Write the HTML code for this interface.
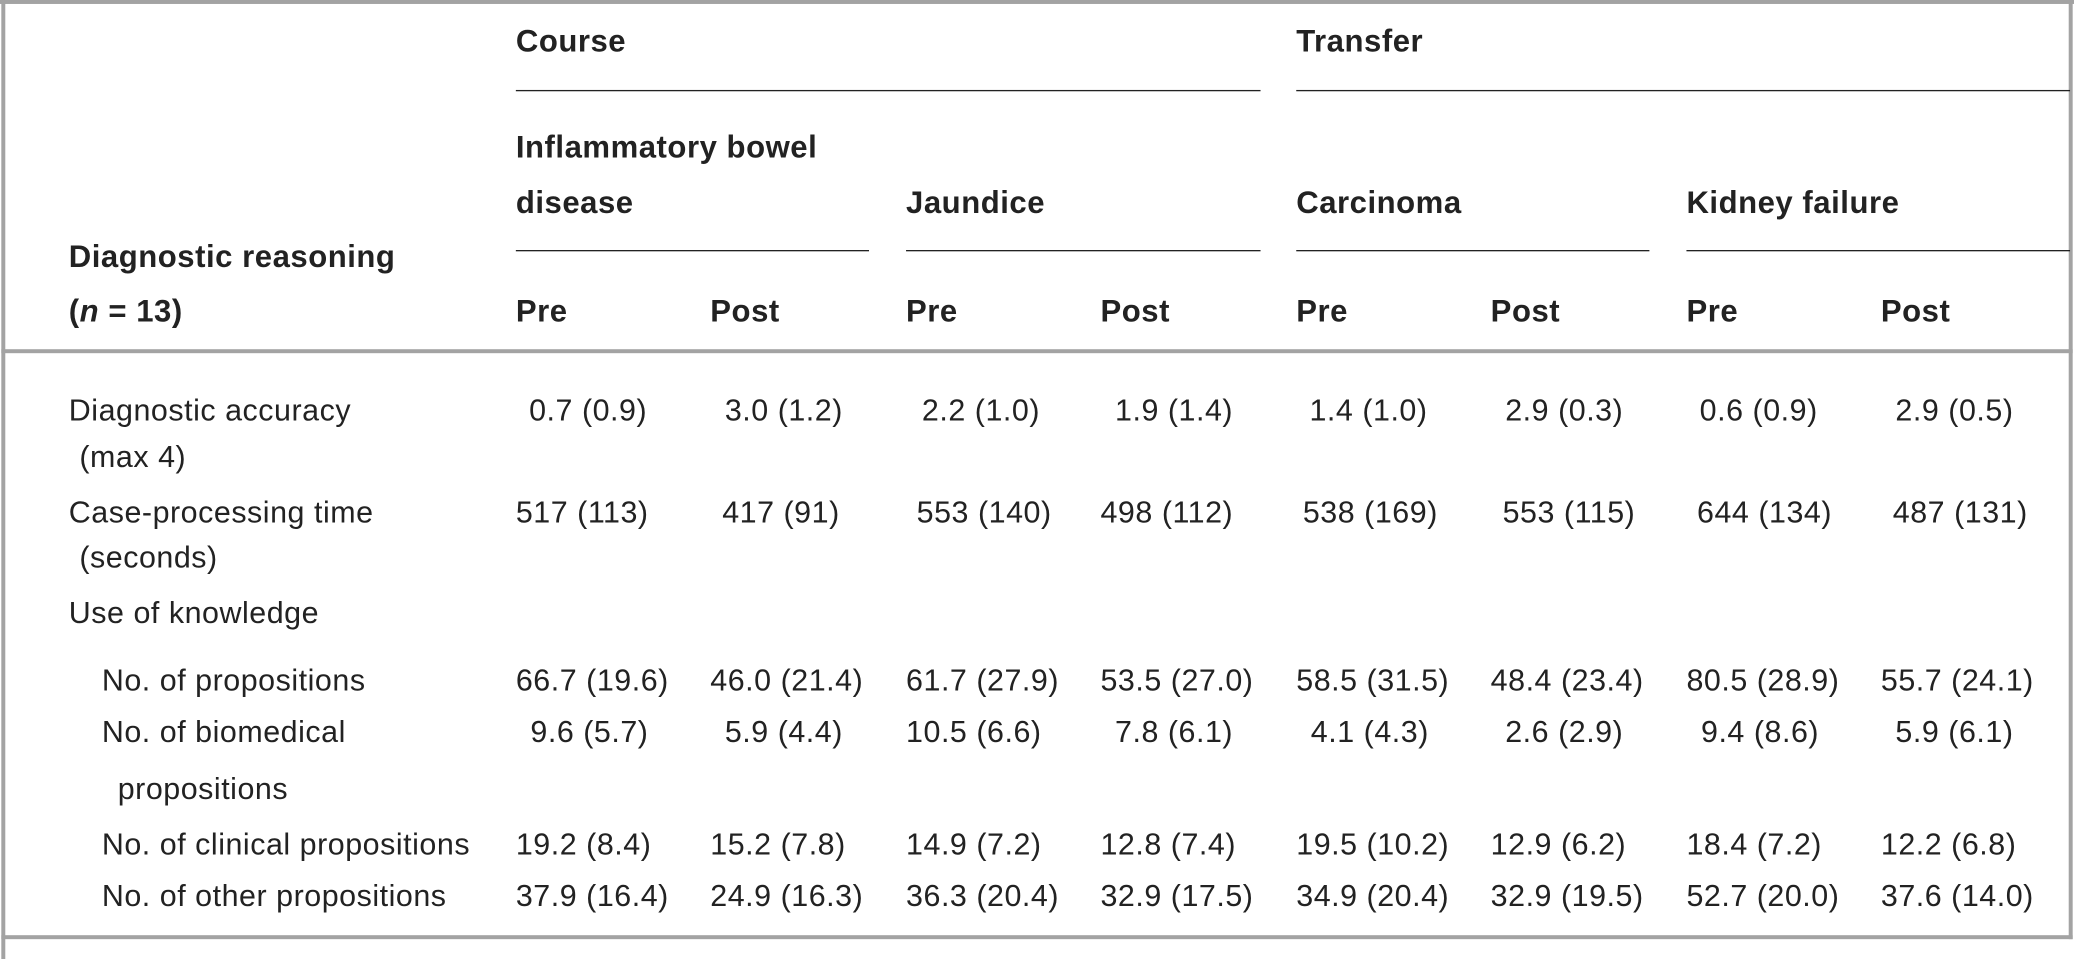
<!DOCTYPE html>
<html><head><meta charset="utf-8"><style>
html,body{margin:0;padding:0;background:#fff;overflow:hidden}
body{width:2074px;height:959px;position:relative}
#w{position:absolute;left:0;top:0;width:1568px;height:725px;transform:scale(1.32270,1.32276);transform-origin:0 0;font-family:"Liberation Sans",sans-serif;font-size:23px;letter-spacing:0.4px;color:#222}
.t{position:absolute;white-space:nowrap;line-height:24px;transform:translateY(-12px)}
.b{font-weight:bold;font-size:23.5px}
.l{position:absolute;height:1.3px;background:#222}
.g{position:absolute;background:#a3a3a3}
</style></head><body><div id="w">
<div class="g" style="left:0;top:0;width:1568px;height:3px"></div>
<div class="g" style="left:1px;top:0;width:3px;height:725px"></div>
<div class="g" style="left:1564px;top:0;width:3px;height:710px"></div>
<div class="g" style="left:1px;top:264px;width:1566px;height:3px"></div>
<div class="g" style="left:1px;top:707px;width:1566px;height:3px"></div>

<div class="t b" style="left:390px;top:31px">Course</div>
<div class="t b" style="left:980px;top:31px">Transfer</div>
<div class="l" style="left:390px;top:68px;width:563px"></div>
<div class="l" style="left:980px;top:68px;width:585px"></div>
<div class="t b" style="left:390px;top:111px">Inflammatory bowel</div>
<div class="t b" style="left:390px;top:153px">disease</div>
<div class="t b" style="left:685px;top:153px">Jaundice</div>
<div class="t b" style="left:980px;top:153px">Carcinoma</div>
<div class="t b" style="left:1275px;top:153px">Kidney failure</div>
<div class="l" style="left:390px;top:189px;width:267px"></div>
<div class="l" style="left:685px;top:189px;width:268px"></div>
<div class="l" style="left:980px;top:189px;width:267px"></div>
<div class="l" style="left:1275px;top:189px;width:290px"></div>
<div class="t b" style="left:52px;top:194px">Diagnostic reasoning</div>
<div class="t b" style="left:52px;top:235px">(<i>n</i> = 13)</div>
<div class="t b" style="left:390px;top:235px">Pre</div>
<div class="t b" style="left:537px;top:235px">Post</div>
<div class="t b" style="left:685px;top:235px">Pre</div>
<div class="t b" style="left:832px;top:235px">Post</div>
<div class="t b" style="left:980px;top:235px">Pre</div>
<div class="t b" style="left:1127px;top:235px">Post</div>
<div class="t b" style="left:1275px;top:235px">Pre</div>
<div class="t b" style="left:1422px;top:235px">Post</div>

<div class="t" style="left:52px;top:310px">Diagnostic accuracy</div>
<div class="t" style="left:60px;top:345px">(max 4)</div>
<div class="t" style="left:52px;top:387px">Case-processing time</div>
<div class="t" style="left:60px;top:421px">(seconds)</div>
<div class="t" style="left:52px;top:463px">Use of knowledge</div>
<div class="t" style="left:77px;top:514px">No. of propositions</div>
<div class="t" style="left:77px;top:553px">No. of biomedical</div>
<div class="t" style="left:89px;top:596px">propositions</div>
<div class="t" style="left:77px;top:638px">No. of clinical propositions</div>
<div class="t" style="left:77px;top:677px">No. of other propositions</div>

<div class="t" style="left:400px;top:310px">0.7 (0.9)</div>
<div class="t" style="left:548px;top:310px">3.0 (1.2)</div>
<div class="t" style="left:697px;top:310px">2.2 (1.0)</div>
<div class="t" style="left:843px;top:310px">1.9 (1.4)</div>
<div class="t" style="left:990px;top:310px">1.4 (1.0)</div>
<div class="t" style="left:1138px;top:310px">2.9 (0.3)</div>
<div class="t" style="left:1285px;top:310px">0.6 (0.9)</div>
<div class="t" style="left:1433px;top:310px">2.9 (0.5)</div>

<div class="t" style="left:390px;top:387px">517 (113)</div>
<div class="t" style="left:546px;top:387px">417 (91)</div>
<div class="t" style="left:693px;top:387px">553 (140)</div>
<div class="t" style="left:832px;top:387px">498 (112)</div>
<div class="t" style="left:985px;top:387px">538 (169)</div>
<div class="t" style="left:1136px;top:387px">553 (115)</div>
<div class="t" style="left:1283px;top:387px">644 (134)</div>
<div class="t" style="left:1431px;top:387px">487 (131)</div>

<div class="t" style="left:390px;top:514px">66.7 (19.6)</div>
<div class="t" style="left:537px;top:514px">46.0 (21.4)</div>
<div class="t" style="left:685px;top:514px">61.7 (27.9)</div>
<div class="t" style="left:832px;top:514px">53.5 (27.0)</div>
<div class="t" style="left:980px;top:514px">58.5 (31.5)</div>
<div class="t" style="left:1127px;top:514px">48.4 (23.4)</div>
<div class="t" style="left:1275px;top:514px">80.5 (28.9)</div>
<div class="t" style="left:1422px;top:514px">55.7 (24.1)</div>

<div class="t" style="left:401px;top:553px">9.6 (5.7)</div>
<div class="t" style="left:548px;top:553px">5.9 (4.4)</div>
<div class="t" style="left:685px;top:553px">10.5 (6.6)</div>
<div class="t" style="left:843px;top:553px">7.8 (6.1)</div>
<div class="t" style="left:991px;top:553px">4.1 (4.3)</div>
<div class="t" style="left:1138px;top:553px">2.6 (2.9)</div>
<div class="t" style="left:1286px;top:553px">9.4 (8.6)</div>
<div class="t" style="left:1433px;top:553px">5.9 (6.1)</div>

<div class="t" style="left:390px;top:638px">19.2 (8.4)</div>
<div class="t" style="left:537px;top:638px">15.2 (7.8)</div>
<div class="t" style="left:685px;top:638px">14.9 (7.2)</div>
<div class="t" style="left:832px;top:638px">12.8 (7.4)</div>
<div class="t" style="left:980px;top:638px">19.5 (10.2)</div>
<div class="t" style="left:1127px;top:638px">12.9 (6.2)</div>
<div class="t" style="left:1275px;top:638px">18.4 (7.2)</div>
<div class="t" style="left:1422px;top:638px">12.2 (6.8)</div>

<div class="t" style="left:390px;top:677px">37.9 (16.4)</div>
<div class="t" style="left:537px;top:677px">24.9 (16.3)</div>
<div class="t" style="left:685px;top:677px">36.3 (20.4)</div>
<div class="t" style="left:832px;top:677px">32.9 (17.5)</div>
<div class="t" style="left:980px;top:677px">34.9 (20.4)</div>
<div class="t" style="left:1127px;top:677px">32.9 (19.5)</div>
<div class="t" style="left:1275px;top:677px">52.7 (20.0)</div>
<div class="t" style="left:1422px;top:677px">37.6 (14.0)</div>
</div></body></html>
